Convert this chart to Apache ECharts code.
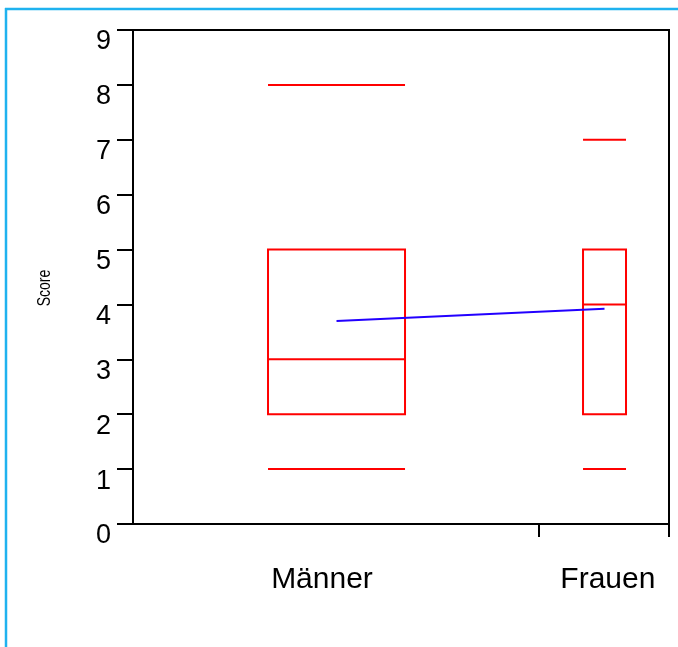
<!DOCTYPE html>
<html>
<head>
<meta charset="utf-8">
<style>
  html, body { margin: 0; padding: 0; background: #fff; }
  #chart { width: 678px; height: 647px; }
</style>
<script src="https://cdn.jsdelivr.net/npm/echarts@6/dist/echarts.min.js"></script>
</head>
<body>
<div id="chart"></div>
<script>
// Score distribution per group: box = quartiles, bars = min / max, blue line joins the means
const groups = ['Männer', 'Frauen'];
const minVals = [1, 1];
const q1Vals = [2, 2];
const medianVals = [3, 4];
const q3Vals = [5, 5];
const maxVals = [8, 7];
const meanVals = [3.70, 3.92];
const yTicks = [0, 1, 2, 3, 4, 5, 6, 7, 8, 9];
const yTitle = 'Score';

// Horizontal layout on a 0..1 axis: box centres, box widths, label anchors, tick marks
const layout = {
  centers: [0.3797, 0.8797],
  widths: [0.2556, 0.0802],
  labelAt: [0.3526, 0.886],
  ticksAt: [0.757, 1]
};

const RED = '#ff0000';
const BLUE = '#2200ff';

const boxData = groups.map((g, i) => [
  layout.centers[i], minVals[i], q1Vals[i], medianVals[i], q3Vals[i], maxVals[i], layout.widths[i]
]);

function renderBox(params, api) {
  const cx = api.value(0);
  const w = api.value(6);
  const half = api.size([w, 0])[0] / 2;
  const xc = api.coord([cx, 0])[0];
  const x0 = xc - half, x1 = xc + half;
  const y = v => api.coord([cx, api.value(v)])[1];
  const yMin = y(1), yQ1 = y(2), yMed = y(3), yQ3 = y(4), yMax = y(5);
  const st = { stroke: RED, lineWidth: 2, fill: null };
  return {
    type: 'group',
    children: [
      { type: 'line', shape: { x1: x0, y1: yMax, x2: x1, y2: yMax }, style: st },
      { type: 'line', shape: { x1: x0, y1: yMin, x2: x1, y2: yMin }, style: st },
      { type: 'rect', shape: { x: x0, y: yQ3, width: x1 - x0, height: yQ1 - yQ3 }, style: st },
      { type: 'line', shape: { x1: x0, y1: yMed, x2: x1, y2: yMed }, style: st }
    ]
  };
}

const chart = echarts.init(document.getElementById('chart'), null, { renderer: 'canvas' });

chart.setOption({
  animation: false,
  backgroundColor: '#ffffff',
  grid: {
    left: 133, right: 9, top: 30, bottom: 123,
    show: true, borderColor: '#000', borderWidth: 2, backgroundColor: 'transparent'
  },
  xAxis: {
    type: 'value',
    min: 0, max: 1,
    splitLine: { show: false },
    axisLine: { show: true, lineStyle: { color: '#000', width: 2 } },
    axisTick: { show: true, customValues: layout.ticksAt, length: 13, lineStyle: { color: '#000', width: 2 } },
    axisLabel: {
      show: true,
      customValues: layout.labelAt,
      formatter: v => {
        const i = layout.labelAt.findIndex(p => Math.abs(p - v) < 1e-6);
        return i >= 0 ? groups[i] : '';
      },
      fontFamily: 'Liberation Sans, Arial, sans-serif',
      fontSize: 30,
      color: '#000',
      margin: 41
    }
  },
  yAxis: {
    type: 'value',
    min: yTicks[0], max: yTicks[yTicks.length - 1], interval: 1,
    splitLine: { show: false },
    axisLine: { show: true, lineStyle: { color: '#000', width: 2 } },
    axisTick: { show: true, length: 16, lineStyle: { color: '#000', width: 2 } },
    axisLabel: {
      fontFamily: 'Liberation Sans, Arial, sans-serif',
      fontSize: 27,
      color: '#000',
      margin: 22,
      verticalAlign: 'top',
      lineHeight: 24,
      formatter: v => yTicks.includes(v) ? String(v) : ''
    }
  },
  series: [
    {
      type: 'custom',
      renderItem: renderBox,
      encode: { x: 0, y: [1, 2, 3, 4, 5] },
      data: boxData,
      z: 3
    },
    {
      type: 'line',
      data: groups.map((g, i) => [layout.centers[i], meanVals[i]]),
      symbol: 'none',
      lineStyle: { color: BLUE, width: 2 },
      z: 4
    }
  ],
  graphic: [
    { type: 'line', shape: { x1: 5, y1: 9, x2: 678, y2: 9 }, style: { stroke: '#1fb2ef', lineWidth: 2.5 } },
    { type: 'line', shape: { x1: 6, y1: 8, x2: 6, y2: 647 }, style: { stroke: '#1fb2ef', lineWidth: 2.5 } },
    // narrow vertical axis title
    {
      type: 'text',
      x: 45, y: 288,
      rotation: Math.PI / 2,
      scaleX: 0.78,
      style: {
        text: yTitle,
        fontFamily: 'Liberation Sans, Arial, sans-serif',
        fontSize: 18,
        fill: '#000',
        align: 'center',
        verticalAlign: 'middle'
      }
    }
  ]
});
</script>
</body>
</html>
